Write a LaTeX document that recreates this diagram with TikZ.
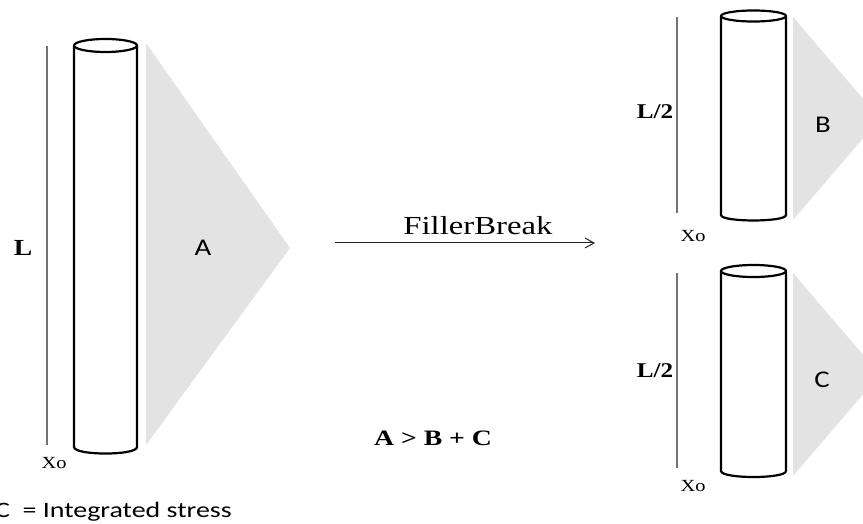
\documentclass[tikz,border=0pt]{standalone}
\usepackage{fontspec}
\setmainfont{Liberation Serif}
\newfontfamily\calib{Carlito}
\usetikzlibrary{arrows.meta}
\begin{document}
\begin{tikzpicture}[x=1pt,y=-1pt,
  cyl/.style={draw=black, line width=2.2pt, fill=white, line join=round},
  dimline/.style={draw=black!55, line width=1.3pt},
  stressfill/.style={fill=black!11},
  lbl/.style={inner sep=0pt, xscale=1.2},
  serifbig/.style={lbl, font=\fontsize{23}{26}\selectfont\bfseries},
  serifmid/.style={lbl, font=\fontsize{21}{24}\selectfont\bfseries},
  xolbl/.style={lbl, font=\fontsize{17}{20}\selectfont},
  sanslbl/.style={lbl, font=\calib\fontsize{24}{28}\selectfont},
]
\useasboundingbox (0,0) rectangle (863,524);

% stress triangles
\fill[stressfill] (146,43) -- (290,248) -- (146,445) -- cycle;
\fill[stressfill] (793,17) -- (880,118.5) -- (793,220) -- cycle;
\fill[stressfill] (793,273) -- (880,374.5) -- (793,476) -- cycle;

% length lines
\coordinate (LtopA) at (47,46);   \coordinate (LbotA) at (47,445);
\coordinate (LtopB) at (677,17);  \coordinate (LbotB) at (677,213);
\coordinate (LtopC) at (677,273); \coordinate (LbotC) at (677,468);
\draw[dimline] (LtopA) -- (LbotA);
\draw[dimline] (LtopB) -- (LbotB);
\draw[dimline] (LtopC) -- (LbotC);

% cylinders
\draw[cyl] (74,45.5) -- (74,447) .. controls (74,455.7) and (137,455.7) .. (137,447) -- (137,45.5);
\draw[cyl] (105.5,45.5) ellipse [x radius=31.5, y radius=6.5];

\draw[cyl] (721,16) -- (721,215) .. controls (721,222.3) and (786,222.3) .. (786,215) -- (786,16);
\draw[cyl] (753.5,16) ellipse [x radius=32.5, y radius=5.5];

\draw[cyl] (721,271) -- (721,471) .. controls (721,479) and (786,479) .. (786,471) -- (786,271);
\draw[cyl] (753.5,271) ellipse [x radius=32.5, y radius=6];

% labels
\node[serifbig] (L) at (23,248) {L};
\node[serifmid] (L2b) at (655,112) {L/2};
\node[serifmid] (L2c) at (655,371) {L/2};
\node[xolbl] (xoA) at (54,463) {Xo};
\node[xolbl] (xoB) at (693,236) {Xo};
\node[xolbl] (xoC) at (693,486) {Xo};
\node[sanslbl] (A) at (203,248) {A};
\node[sanslbl] (B) at (823,125) {B};
\node[sanslbl] (C) at (822,380) {C};

% transformation arrow
\coordinate (arrS) at (335,243);
\coordinate (arrE) at (595,243);
\draw[black!85, line width=1pt, -{Straight Barb[length=9pt,width=10pt]}] (arrS) -- (arrE);
\node[lbl, xscale=1.05, font=\fontsize{26}{30}\selectfont, anchor=base] (fb) at (478,235) {FillerBreak};

\node[lbl, xscale=1.05, font=\fontsize{22}{26}\selectfont\bfseries, anchor=base] (ineq) at (433,445) {A > B + C};

\node[inner sep=0pt, xscale=1.27, font=\calib\fontsize{22}{26}\selectfont, anchor=base east] (legend) at (232,517) {C\ \ = Integrated stress};
\end{tikzpicture}
\end{document}
